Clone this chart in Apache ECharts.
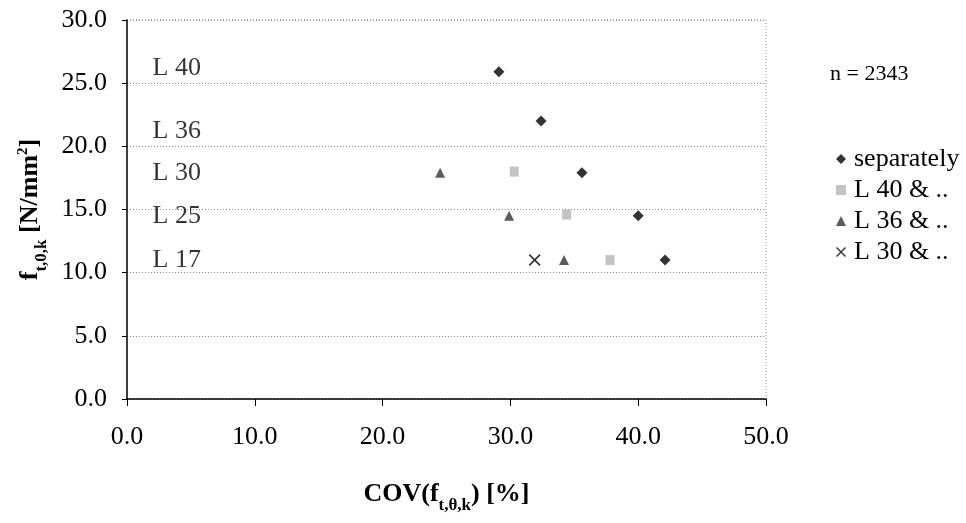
<!DOCTYPE html>
<html>
<head>
<meta charset="utf-8">
<script src="https://cdn.jsdelivr.net/npm/echarts@6/dist/echarts.min.js"></script>
<style>html,body{margin:0;padding:0;background:#fff}#c{width:966px;height:523px}</style>
</head>
<body>
<div id="c"></div>
<script>
// Data
var separately = [[29.1, 25.9], [32.4, 22.0], [35.6, 17.9], [40.0, 14.5], [42.1, 11.0]];
var l40and = [[30.3, 18.0], [34.4, 14.6], [37.8, 11.0]];
var l36and = [[24.5, 17.9], [29.9, 14.5], [34.2, 11.0]];
var l30and = [[31.9, 11.0]];
var classLabels = ['L 40', 'L 36', 'L 30', 'L 25', 'L 17'];
var classLabelY = [26.2, 21.2, 17.9, 14.5, 11.0];
var classLabelX = 2.0;
var seriesNames = ['separately', 'L 40 & ..', 'L 36 & ..', 'L 30 & ..'];
var sampleNote = 'n = 2343';

var FONT = '"Liberation Serif", "DejaVu Serif", serif';
var crossPath = 'path://M0,1L1,0L5,4L9,0L10,1L6,5L10,9L9,10L5,6L1,10L0,9L4,5Z';

var labelData = classLabels.map(function (t, i) { return [classLabelX, classLabelY[i], t]; });

var nameRich = {
  m: { fontFamily: FONT, fontSize: 26, fontWeight: 'bold', color: '#000', lineHeight: 30, verticalAlign: 'bottom' },
  s: { fontFamily: FONT, fontSize: 17, fontWeight: 'bold', color: '#000', lineHeight: 30, verticalAlign: 'bottom', padding: [0, 0, -7, 0] },
  p: { fontFamily: FONT, fontSize: 15, fontWeight: 'bold', color: '#000', lineHeight: 30, verticalAlign: 'top', padding: [2, 0, 0, 0] }
};

var chart = echarts.init(document.getElementById('c'));
chart.setOption({
  backgroundColor: '#fff',
  animation: false,
  textStyle: { fontFamily: FONT, color: '#000' },
  grid: { left: 127, right: 200, top: 20, bottom: 124, containLabel: false },
  xAxis: {
    type: 'value', min: 0, max: 50, interval: 10,
    name: '{m|COV(f}{s|t,θ,k}{m|) [%]}',
    nameLocation: 'middle', nameGap: 78,
    nameTextStyle: { rich: nameRich },
    axisLine: { show: true, onZero: false, lineStyle: { color: '#000', width: 1.5 } },
    axisTick: { show: true, inside: false, length: 7, lineStyle: { color: '#000' } },
    axisLabel: { margin: 25, fontSize: 26, fontFamily: FONT, color: '#000', formatter: function (v) { return v.toFixed(1); } },
    splitLine: { show: false }
  },
  yAxis: {
    type: 'value', min: 0, max: 30, interval: 5,
    name: '{m|f}{s|t,0,k}{m| [N/mm}{p|2}{m|]}',
    nameLocation: 'middle', nameGap: 80, nameRotate: 90,
    nameTextStyle: { rich: nameRich },
    axisLine: { show: true, onZero: false, lineStyle: { color: '#000', width: 1.5 } },
    axisTick: { show: true, inside: false, length: 5, lineStyle: { color: '#000' } },
    axisLabel: { margin: 20, fontSize: 26, fontFamily: FONT, color: '#000', formatter: function (v) { return v.toFixed(1); } },
    splitLine: { show: true, lineStyle: { color: '#888', type: [1, 2], width: 1 } }
  },
  legend: {
    orient: 'vertical', left: 831, top: 141, itemGap: 5,
    itemWidth: 10, itemHeight: 10,
    textStyle: { fontFamily: FONT, fontSize: 26, color: '#000', padding: [0, 0, 0, 3] },
    data: seriesNames
  },
  graphic: [
    { type: 'text', left: 830, top: 63, style: { text: sampleNote, font: '22px ' + FONT, fill: '#000' } },
    { type: 'line', shape: { x1: 127, y1: 20, x2: 766, y2: 20 }, style: { stroke: '#888', lineDash: [1, 2], lineWidth: 1 } },
    { type: 'line', shape: { x1: 766, y1: 20, x2: 766, y2: 399 }, style: { stroke: '#888', lineDash: [1, 2], lineWidth: 1 } }
  ],
  series: [
    { name: seriesNames[0], type: 'scatter', data: separately, symbol: 'diamond', symbolSize: 11, itemStyle: { color: '#000' } },
    { name: seriesNames[1], type: 'scatter', data: l40and, symbol: 'rect', symbolSize: [9, 10], itemStyle: { color: '#b4b4b4' } },
    { name: seriesNames[2], type: 'scatter', data: l36and, symbol: 'triangle', symbolSize: 10, itemStyle: { color: '#333' } },
    { name: seriesNames[3], type: 'scatter', data: l30and, symbol: crossPath, symbolSize: 12, itemStyle: { color: '#000' } },
    {
      name: 'classes', type: 'scatter', data: labelData, symbolSize: 0, silent: true,
      label: { show: true, position: 'right', distance: 0, fontFamily: FONT, fontSize: 26, color: '#000',
        formatter: function (p) { return p.value[2]; } }
    }
  ]
});
</script>
</body>
</html>
